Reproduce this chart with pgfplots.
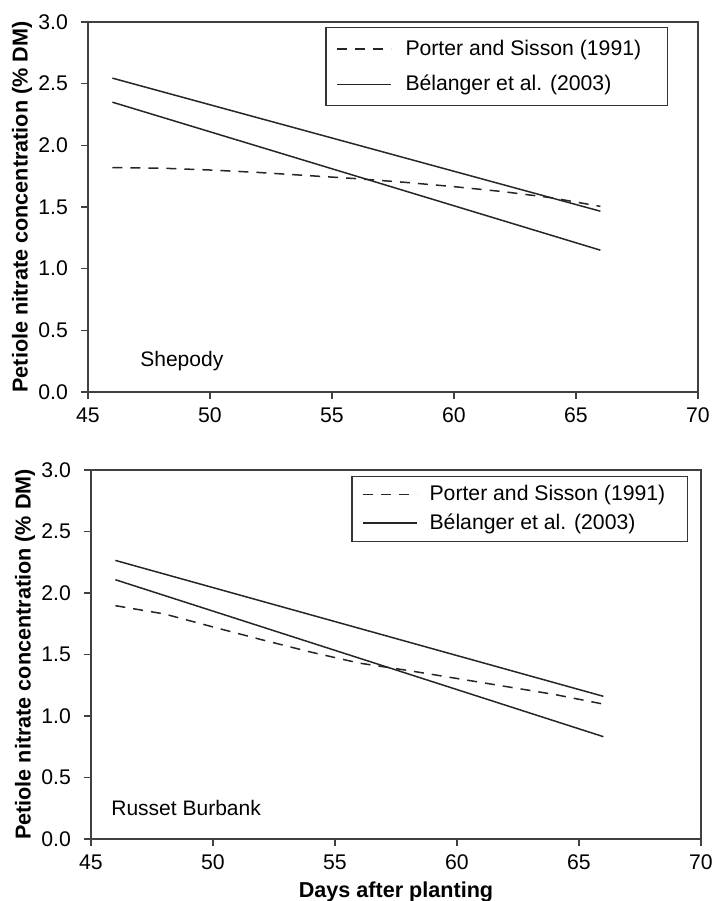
\documentclass[border=0pt]{standalone}
\usepackage{pgfplots}
\pgfplotsset{compat=1.18}
\usepackage{fontspec}
\setmainfont{Liberation Sans}

\pgfplotstableread{
x y
46 2.545
66 1.466
}\sheA
\pgfplotstableread{
x y
46 2.35
66 1.15
}\sheB
\pgfplotstableread{
x y
46 1.82
48 1.815
50 1.80
52 1.78
54 1.755
56 1.73
58 1.70
60 1.665
62 1.625
64 1.575
66 1.505
}\sheP
\pgfplotstableread{
x y
46 2.265
66 1.16
}\rusA
\pgfplotstableread{
x y
46 2.108
66 0.832
}\rusB
\pgfplotstableread{
x y
46 1.897
48 1.83
50 1.724
52 1.62
54 1.52
56 1.43
58 1.37
60 1.305
62 1.24
64 1.175
66 1.097
}\rusP

\pgfplotsset{
 myax/.style={
  scale only axis, width=305pt,
  xmin=45, xmax=70, ymin=0, ymax=3,
  xtick={45,50,55,60,65,70}, ytick={0,0.5,1,1.5,2,2.5,3},
  /pgf/number format/assume math mode=true,
  tick align=outside, tick pos=left,
  major tick length=3.5pt,
  axis line style={black!75, line width=0.8pt},
  every tick/.style={black!75, line width=0.8pt},
  tick label style={font=\fontsize{10.6}{12}\selectfont},
  xticklabel style={yshift=-1pt},
  yticklabel style={xshift=-3pt, /pgf/number format/.cd, fixed, fixed zerofill, precision=1},
  label style={font=\bfseries\fontsize{10.8}{13}\selectfont},
  ylabel={Petiole nitrate concentration (\% DM)},
  ylabel style={at={(axis description cs:-0.108,0.5)}, anchor=center},
  legend cell align=left,
  legend image code/.code={\draw[##1] (0pt,0pt) -- (27pt,0pt);},
 },
 ln/.style={black!85, line width=0.75pt, no marks},
 dsh/.style={ln, dash pattern=on 5pt off 4pt},
}

\begin{document}
\begin{tikzpicture}
\path[use as bounding box] (0pt,0pt) rectangle (356pt,-450.5pt);
\begin{axis}[myax, at={(44pt,-196pt)}, anchor=south west, height=185pt,
  legend style={at={(0.951,0.986)}, anchor=north east, draw=black!80, line width=0.6pt,
    inner xsep=5pt, inner ysep=4pt, row sep=4.5pt, font=\fontsize{10.6}{12}\selectfont,
    /tikz/every odd column/.append style={column sep=5pt}}]
\addplot[dsh] table {\sheP};
\addlegendentry{\makebox[124pt][l]{Porter and Sisson (1991)}}
\addplot[ln] table {\sheA};
\addlegendentry{\makebox[124pt][l]{Bélanger et al. (2003)}}
\addplot[ln] table {\sheB};
\node[anchor=west, inner sep=0pt, font=\fontsize{10.5}{12}\selectfont] at (axis cs:47.13,0.25) {Shepody};
\end{axis}
\begin{axis}[myax, at={(45.5pt,-419.5pt)}, anchor=south west, height=184.5pt,
  xlabel={Days after planting},
  xlabel style={at={(axis description cs:0.5,0)}, yshift=-26.5pt, anchor=center},
  legend style={at={(0.979,0.984)}, anchor=north east, draw=black!80, line width=0.6pt,
    inner xsep=5pt, inner ysep=2.5pt, row sep=1pt, font=\fontsize{10.6}{12}\selectfont,
    /tikz/every odd column/.append style={column sep=4pt}}]
\addplot[dsh] table {\rusP};
\addlegendentry{\makebox[122pt][l]{Porter and Sisson (1991)}}
\addplot[ln] table {\rusA};
\addlegendentry{\makebox[122pt][l]{Bélanger et al. (2003)}}
\addplot[ln] table {\rusB};
\node[anchor=west, inner sep=0pt, font=\fontsize{10.5}{12}\selectfont] at (axis cs:45.82,0.25) {Russet Burbank};
\end{axis}
\end{tikzpicture}
\end{document}
